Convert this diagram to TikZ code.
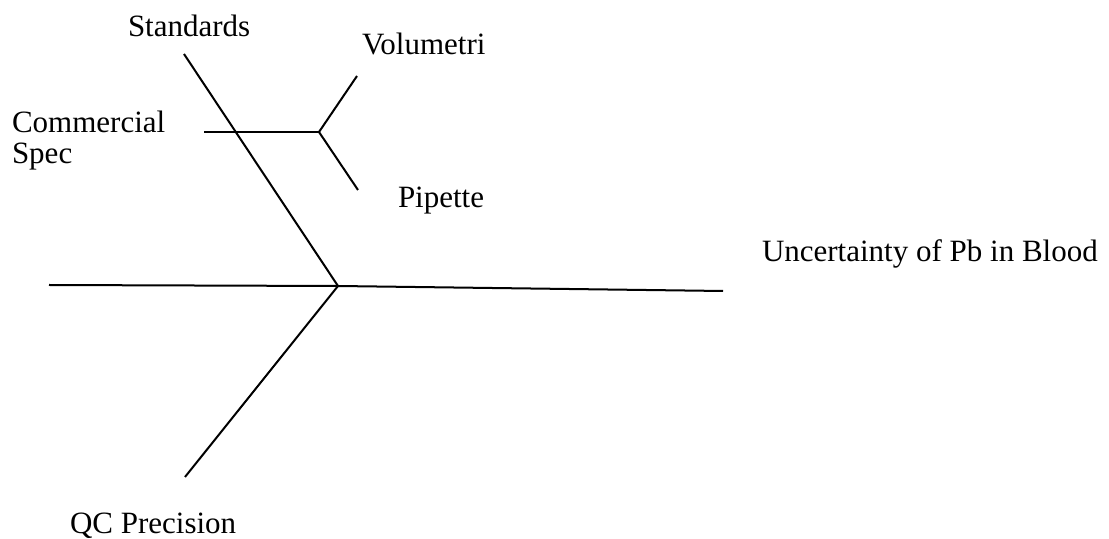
\documentclass[tikz,border=0pt]{standalone}
\usepackage{fontspec}
\setmainfont{Liberation Serif}
\begin{document}
\begin{tikzpicture}[x=0.5pt,y=-0.5pt,
  bone/.style={line width=1pt,line cap=butt},
  lbl/.style={anchor=base west,inner sep=0pt,outer sep=0pt,font=\fontsize{15.5}{16}\selectfont}]
\useasboundingbox (0,0) rectangle (1109,539);
% spine and branch points
\coordinate (tail) at (49,285);
\coordinate (hub) at (338,286);
\coordinate (head) at (723,291);
\coordinate (stdTop) at (184,54);
\coordinate (qcEnd) at (185,477);
\coordinate (csStart) at (204,132);
\coordinate (csFork) at (319,132);
\coordinate (volEnd) at (357,76);
\coordinate (pipEnd) at (358,190);
% bones
\draw[bone] (tail) -- (hub) -- (head);
\draw[bone] (stdTop) -- (hub);
\draw[bone] (hub) -- (qcEnd);
\draw[bone] (csStart) -- (csFork);
\draw[bone] (csFork) -- (volEnd);
\draw[bone] (csFork) -- (pipEnd);
% labels
\node[lbl] (std) at (128,37) {Standards};
\node[lbl] (vol) at (362,55) {Volumetri};
\node[lbl] (com) at (12,133) {Commercial};
\node[lbl] (spec) at (12,164) {Spec};
\node[lbl] (pip) at (398,208) {Pipette};
\node[lbl] (eff) at (762,262) {Uncertainty of Pb in Blood};
\node[lbl] (qc) at (70,534) {QC Precision};
\end{tikzpicture}
\end{document}
